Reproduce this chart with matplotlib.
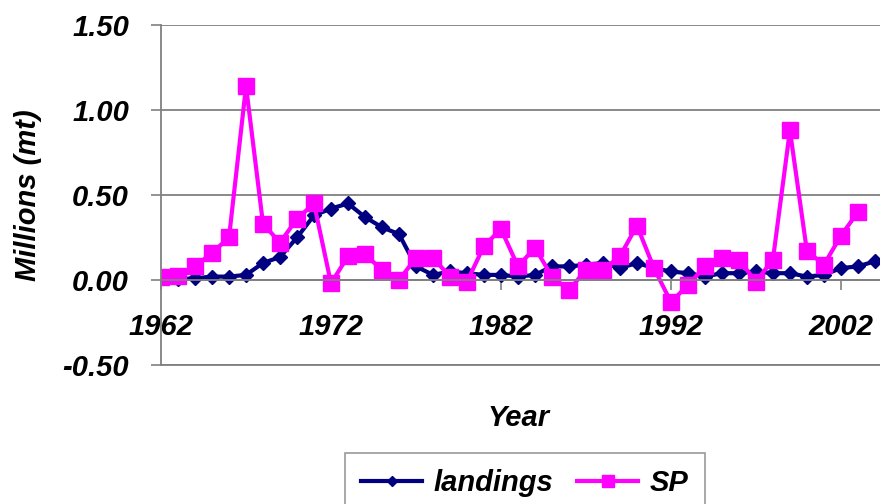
import numpy as np
import matplotlib
matplotlib.use('Agg')
import matplotlib.pyplot as plt

# data (millions of mt)
years = np.arange(1962, 2005)
landings = [0.01, 0.005, 0.01, 0.02, 0.02, 0.03, 0.10, 0.135, 0.25, 0.38,
            0.42, 0.45, 0.37, 0.31, 0.27, 0.08, 0.03, 0.05, 0.04, 0.03,
            0.03, 0.02, 0.03, 0.08, 0.08, 0.09, 0.10, 0.07, 0.10, 0.07,
            0.05, 0.04, 0.02, 0.04, 0.04, 0.05, 0.04, 0.04, 0.02, 0.03,
            0.07, 0.08, 0.11]
sp = [0.02, 0.025, 0.08, 0.16, 0.25, 1.14, 0.33, 0.22, 0.36, 0.45,
      -0.02, 0.14, 0.15, 0.06, 0.00, 0.13, 0.13, 0.02, -0.01, 0.20,
      0.30, 0.08, 0.19, 0.02, -0.06, 0.06, 0.06, 0.14, 0.32, 0.07,
      -0.13, -0.03, 0.08, 0.13, 0.12, -0.01, 0.12, 0.88, 0.17, 0.09,
      0.26, 0.40, np.nan]
yticks = [-0.5, 0.0, 0.5, 1.0, 1.5]
ytick_labels = ['-0.50', '0.00', '0.50', '1.00', '1.50']
xticks = [1962, 1972, 1982, 1992, 2002]

plt.rcParams['font.family'] = ['Liberation Sans', 'DejaVu Sans']
plt.rcParams['font.weight'] = 'bold'
plt.rcParams['font.style'] = 'italic'
plt.rcParams['axes.labelweight'] = 'bold'
plt.rcParams['axes.unicode_minus'] = False

fig = plt.figure(figsize=(8.8, 5.04), dpi=100)
ax = fig.add_axes([0.183, 0.2758, 0.817, 0.6746])

ax.plot(years, landings, color='#000080', lw=3, marker='D', ms=7.5,
        label='landings')
ax.plot(years, sp, color='#FF00FF', lw=3, marker='s', ms=12,
        label='SP')

ax.set_xlim(1962, 2004.3)
ax.set_ylim(-0.5, 1.5)
ax.set_yticks(yticks)
ax.set_yticklabels(ytick_labels)
ax.set_xticks(xticks)
ax.set_xticklabels([str(x) for x in xticks])

ax.grid(axis='y', color='#808080', lw=1.3)
# bottom border of the plot area at -0.50
ax.axhline(-0.5, color='#808080', lw=1.3, clip_on=False, zorder=0)
ax.set_axisbelow(True)
for s in ['top', 'right']:
    ax.spines[s].set_visible(False)
ax.spines['bottom'].set_position(('data', 0))
ax.spines['bottom'].set_color('#808080')
ax.spines['bottom'].set_linewidth(1.3)
ax.spines['left'].set_color('#808080')
ax.spines['left'].set_linewidth(1.3)

ax.tick_params(axis='y', direction='out', length=7, width=1.2,
               color='#808080', pad=16, labelsize=21)
ax.tick_params(axis='x', direction='out', length=7, width=1.2,
               color='#808080', pad=17, labelsize=21)

ax.set_ylabel('Millions (mt)', fontsize=21)
ax.yaxis.set_label_coords(-0.166, 0.5)
ax.set_xlabel('Year', fontsize=21)
ax.xaxis.set_label_coords(0.497, -0.115)

leg = ax.legend(loc='upper center', bbox_to_anchor=(0.506, -0.259), ncol=2,
                fontsize=21, frameon=True, fancybox=False, markerscale=0.7,
                handlelength=2.1, handletextpad=0.4, columnspacing=0.8,
                borderpad=0.55, borderaxespad=0)
leg.get_frame().set_edgecolor('#808080')
leg.get_frame().set_linewidth(1.2)

plt.savefig('out.png', dpi=100)
